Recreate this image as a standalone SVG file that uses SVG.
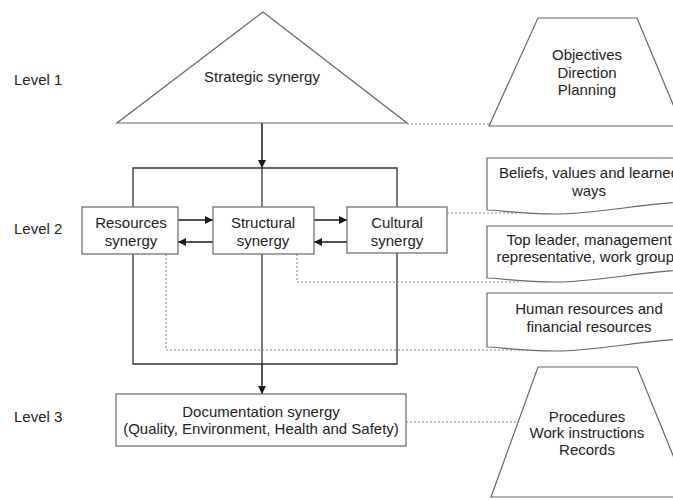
<svg xmlns="http://www.w3.org/2000/svg" width="673" height="500" viewBox="0 0 673 500">
  <defs>
    <marker id="arrow" viewBox="0 0 10 10" refX="10" refY="5" markerWidth="8" markerHeight="8" markerUnits="userSpaceOnUse" orient="auto">
      <path d="M0,0 L10,5 L0,10 Z" fill="#1a1a1a"/>
    </marker>
  </defs>
  <style>
    text { font-family: "Liberation Sans", Arial, sans-serif; font-size: 15px; fill: #222; }
    .c { text-anchor: middle; }
    .shape { fill: #fff; stroke: #666; stroke-width: 1.2; }
    .frame { fill: none; stroke: #333; stroke-width: 1.3; }
    .flow { fill: none; stroke: #1a1a1a; stroke-width: 1.5; marker-end: url(#arrow); }
    .dot { fill: none; stroke: #888; stroke-width: 1.1; stroke-dasharray: 2 2; }
  </style>
  <rect width="673" height="500" fill="#fff"/>

  <!-- level labels -->
  <text x="14" y="85">Level 1</text>
  <text x="14" y="234">Level 2</text>
  <text x="14" y="422">Level 3</text>

  <g id="connectors">
    <!-- frame around level 2 -->
    <path class="frame" d="M133,207 V168 H397 V207"/>
    <path class="frame" d="M133,254 V364 H397 V253"/>
    <line class="frame" x1="262" y1="168" x2="262" y2="207"/>
    <line class="frame" x1="262" y1="254" x2="262" y2="364"/>
    <!-- vertical flow -->
    <line class="flow" x1="262" y1="123" x2="262" y2="168"/>
    <line class="flow" x1="262" y1="364" x2="262" y2="394"/>
    <!-- horizontal flows between level 2 boxes -->
    <line class="flow" x1="178" y1="220" x2="213" y2="220"/>
    <line class="flow" x1="213" y1="242" x2="178" y2="242"/>
    <line class="flow" x1="314" y1="220" x2="347" y2="220"/>
    <line class="flow" x1="347" y1="242" x2="314" y2="242"/>
    <!-- dotted links to descriptions -->
    <line class="dot" x1="407" y1="124" x2="489" y2="124"/>
    <line class="dot" x1="447" y1="213" x2="518" y2="213"/>
    <path class="dot" d="M297,254 V282 H518"/>
    <path class="dot" d="M166,254 V350 H537"/>
    <line class="dot" x1="406" y1="422" x2="517" y2="422"/>
  </g>

  <g id="strategic">
    <polygon class="shape" points="263,12 407,123 117,123"/>
    <text class="c" x="262" y="82">Strategic synergy</text>
  </g>

  <g id="objectives">
    <polygon class="shape" points="538,18 637,18 682,126 489,126"/>
    <text class="c" x="587" y="60">Objectives</text>
    <text class="c" x="587" y="78">Direction</text>
    <text class="c" x="587" y="95">Planning</text>
  </g>

  <g id="resources">
    <rect class="shape" x="82" y="207" width="96" height="47"/>
    <text class="c" x="131" y="228">Resources</text>
    <text class="c" x="131" y="246">synergy</text>
  </g>

  <g id="structural">
    <rect class="shape" x="213" y="207" width="101" height="47"/>
    <text class="c" x="263" y="228">Structural</text>
    <text class="c" x="263" y="246">synergy</text>
  </g>

  <g id="cultural">
    <rect class="shape" x="347" y="207" width="100" height="46"/>
    <text class="c" x="397" y="228">Cultural</text>
    <text class="c" x="397" y="246">synergy</text>
  </g>

  <g id="beliefs">
    <path class="shape" d="M487,158 H700 V201 C640,203 600,214 555,214 C520,214 500,210 487,210 Z"/>
    <text class="c" x="589" y="178">Beliefs, values and learned</text>
    <text class="c" x="589" y="196">ways</text>
  </g>

  <g id="leadership">
    <path class="shape" d="M487,226 H700 V269 C640,271 600,282 555,282 C520,282 500,278 487,278 Z"/>
    <text class="c" x="589" y="245">Top leader, management</text>
    <text class="c" x="589" y="262">representative, work groups</text>
  </g>

  <g id="human">
    <path class="shape" d="M487,293 H700 V338 C640,340 600,351 555,351 C520,351 500,347 487,347 Z"/>
    <text class="c" x="589" y="314">Human resources and</text>
    <text class="c" x="589" y="332">financial resources</text>
  </g>

  <g id="documentation">
    <rect class="shape" x="116" y="394" width="290" height="52"/>
    <text class="c" x="261" y="417">Documentation synergy</text>
    <text class="c" x="261" y="434">(Quality, Environment, Health and Safety)</text>
  </g>

  <g id="procedures">
    <polygon class="shape" points="538,367 637,367 690,497 491,497"/>
    <text class="c" x="587" y="422">Procedures</text>
    <text class="c" x="587" y="438">Work instructions</text>
    <text class="c" x="587" y="455">Records</text>
  </g>
</svg>
